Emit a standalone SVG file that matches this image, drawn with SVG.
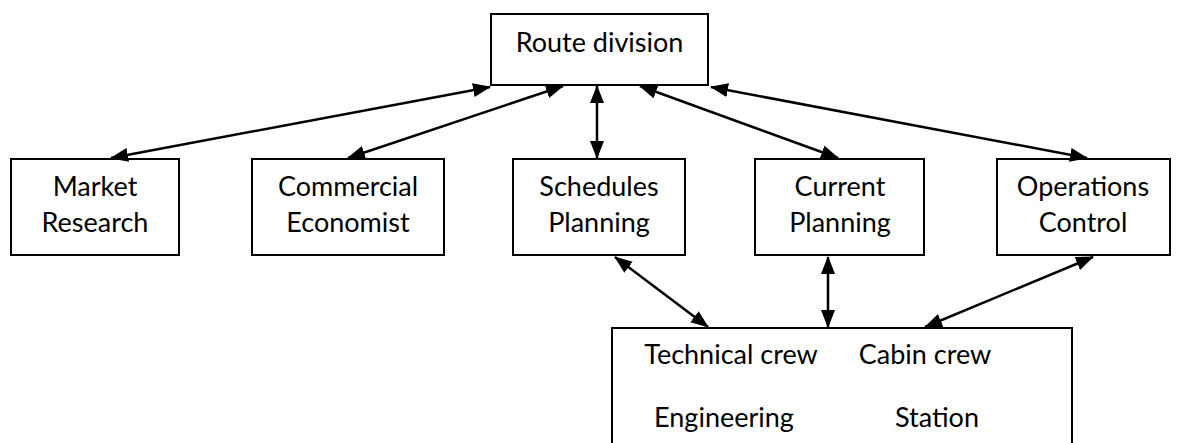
<svg xmlns="http://www.w3.org/2000/svg" width="1182" height="443" viewBox="0 0 1182 443">
  <style>
    .box { fill: #fff; stroke: #000; stroke-width: 2; }
    .lbl { font-family: Lato, "Liberation Sans", sans-serif; font-size: 27px; fill: #000; text-anchor: middle; }
    .link { stroke: #000; stroke-width: 2.5; fill: none; marker-start: url(#head); marker-end: url(#head); }
  </style>
  <defs>
    <marker id="head" markerUnits="userSpaceOnUse" markerWidth="18" markerHeight="14" refX="17" refY="7" orient="auto-start-reverse" viewBox="0 0 18 14">
      <path d="M0,0 L18,7 L0,14 Z" fill="#000"/>
    </marker>
  </defs>

  <g id="route-division">
    <rect class="box" x="491" y="14" width="217" height="71"/>
    <text class="lbl" x="599.5" y="52">Route division</text>
  </g>

  <g id="market-research">
    <rect class="box" x="11" y="159" width="168" height="96"/>
    <text class="lbl" x="95" y="196">Market</text>
    <text class="lbl" x="95" y="232">Research</text>
  </g>

  <g id="commercial-economist">
    <rect class="box" x="252" y="159" width="192" height="96"/>
    <text class="lbl" x="348" y="196">Commercial</text>
    <text class="lbl" x="348" y="232">Economist</text>
  </g>

  <g id="schedules-planning">
    <rect class="box" x="513" y="159" width="172" height="96"/>
    <text class="lbl" x="599" y="196">Schedules</text>
    <text class="lbl" x="599" y="232">Planning</text>
  </g>

  <g id="current-planning">
    <rect class="box" x="755" y="159" width="169" height="96"/>
    <text class="lbl" x="840" y="196">Current</text>
    <text class="lbl" x="840" y="232">Planning</text>
  </g>

  <g id="operations-control">
    <rect class="box" x="997" y="159" width="173" height="96"/>
    <text class="lbl" x="1083" y="196">Operations</text>
    <text class="lbl" x="1083" y="232">Control</text>
  </g>

  <g id="crew-station">
    <rect class="box" x="612" y="328" width="460" height="130"/>
    <text class="lbl" x="731" y="364">Technical crew</text>
    <text class="lbl" x="925" y="364">Cabin crew</text>
    <text class="lbl" x="724" y="427">Engineering</text>
    <text class="lbl" x="937" y="427">Station</text>
  </g>

  <g id="connectors">
    <line class="link" x1="490" y1="87" x2="111" y2="158"/>
    <line class="link" x1="563" y1="86" x2="348" y2="158"/>
    <line class="link" x1="597" y1="86" x2="597" y2="158"/>
    <line class="link" x1="640" y1="86" x2="838" y2="158"/>
    <line class="link" x1="711" y1="87" x2="1087" y2="158"/>
    <line class="link" x1="615" y1="257" x2="708" y2="327"/>
    <line class="link" x1="828" y1="257" x2="828" y2="327"/>
    <line class="link" x1="1093" y1="257" x2="925" y2="327"/>
  </g>
</svg>
